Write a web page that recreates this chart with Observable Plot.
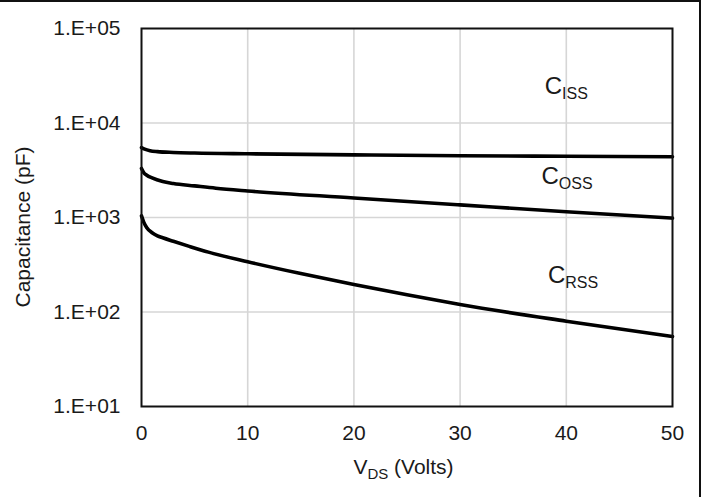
<!DOCTYPE html>
<html>
<head>
<meta charset="utf-8">
<script src="https://cdn.jsdelivr.net/npm/d3@7"></script>
<script src="https://cdn.jsdelivr.net/npm/@observablehq/plot@0.6"></script>
<style>
  html, body { margin: 0; padding: 0; background: #fff; }
  #wrap { position: relative; width: 708px; height: 497px; overflow: hidden; }
  #border {
    position: absolute; left: 0; top: 0; width: 701px; height: 497px;
    border-top: 2px solid #111; border-right: 2px solid #111;
    box-sizing: border-box; pointer-events: none;
  }
</style>
</head>
<body>
<div id="wrap"><div id="border"></div></div>
<script>
// Input capacitance Ciss (pF) vs drain-source voltage (V)
const vCiss = [0, 0.3, 0.8, 1.5, 3, 5, 10, 20, 30, 40, 50];
const ciss  = [5500, 5300, 5100, 4980, 4880, 4810, 4720, 4600, 4500, 4450, 4400];

// Output capacitance Coss (pF)
const vCoss = [0, 0.2, 0.5, 1, 2, 3, 5, 7, 10, 20, 30, 40, 50];
const coss  = [3300, 3000, 2800, 2620, 2400, 2290, 2160, 2040, 1910, 1610, 1360, 1150, 985];

// Reverse transfer capacitance Crss (pF)
const vCrss = [0, 0.2, 0.5, 1, 1.5, 2, 3, 4.5, 6.3, 10, 15, 20, 25, 30, 40, 50];
const crss  = [1040, 900, 780, 690, 640, 610, 560, 495, 430, 340, 255, 195, 152, 120, 80, 55];

const xTicks = [0, 10, 20, 30, 40, 50];
const yTicks = [1e1, 1e2, 1e3, 1e4, 1e5];

// Curve labels: main letter + subscript, anchored in data units
const labels = [
  {v: 39.6, c: 20400, main: "C", sub: "ISS"},
  {v: 39.3, c: 2250, main: "C", sub: "OSS"},
  {v: 39.9, c: 203, main: "C", sub: "RSS"}
];

const toRows = (vs, cs) => vs.map((v, i) => ({v, c: cs[i]}));
const series = [toRows(vCiss, ciss), toRows(vCoss, coss), toRows(vCrss, crss)];

const font = "'Liberation Sans', Arial, sans-serif";

const plot = Plot.plot({
  width: 708,
  height: 497,
  marginLeft: 141,
  marginRight: 36,
  marginTop: 28,
  marginBottom: 91,
  style: {fontFamily: font, background: "transparent", color: "#1a1a1a"},
  x: {domain: [0, 50], ticks: xTicks, label: null},
  y: {type: "log", domain: [1e1, 1e5], ticks: yTicks, label: null},
  marks: [
    Plot.gridX(xTicks.slice(1, -1), {stroke: "#d6d6d6", strokeOpacity: 1, strokeWidth: 1.6}),
    Plot.gridY(yTicks.slice(1, -1), {stroke: "#d6d6d6", strokeOpacity: 1, strokeWidth: 1.6}),
    Plot.axisX({ticks: xTicks, tickSize: 0, tickPadding: 19, fontSize: 21, label: null}),
    Plot.axisY({ticks: yTicks, tickSize: 0, tickPadding: 21, fontSize: 21, label: null,
      tickFormat: d => "1.E+" + String(Math.round(Math.log10(d))).padStart(2, "0")}),
    ...series.map(s => Plot.line(s, {x: "v", y: "c", stroke: "#000", strokeWidth: 3.6, curve: "monotone-x"})),
    Plot.frame({stroke: "#111", strokeWidth: 2}),
    Plot.text(labels, {x: "v", y: "c", text: "main", textAnchor: "end", lineAnchor: "bottom", fontSize: 24, fill: "#1a1a1a"}),
    Plot.text(labels, {x: "v", y: "c", text: "sub", textAnchor: "start", lineAnchor: "bottom", dy: 5, fontSize: 16, fill: "#1a1a1a"})
  ]
});

document.getElementById("wrap").prepend(plot);

// Axis titles with subscripts, placed from the plot's own scales
const svg = d3.select(plot);
const sx = plot.scale("x"), sy = plot.scale("y");
const xMid = (sx.apply(0) + sx.apply(50)) / 2;
const xTitle = svg.append("text")
  .attr("x", xMid - 3).attr("y", 474)
  .attr("text-anchor", "middle")
  .attr("font-size", 21).attr("fill", "#1a1a1a");
xTitle.append("tspan").text("V");
xTitle.append("tspan").attr("font-size", 15).attr("dy", 5).text("DS");
xTitle.append("tspan").attr("dy", -5).text(" (Volts)");

const yMid = (sy.apply(1e1) + sy.apply(1e5)) / 2;
svg.append("text")
  .attr("transform", `translate(30,${yMid + 10}) rotate(-90)`)
  .attr("text-anchor", "middle")
  .attr("font-size", 21).attr("fill", "#1a1a1a")
  .text("Capacitance (pF)");
</script>
</body>
</html>
